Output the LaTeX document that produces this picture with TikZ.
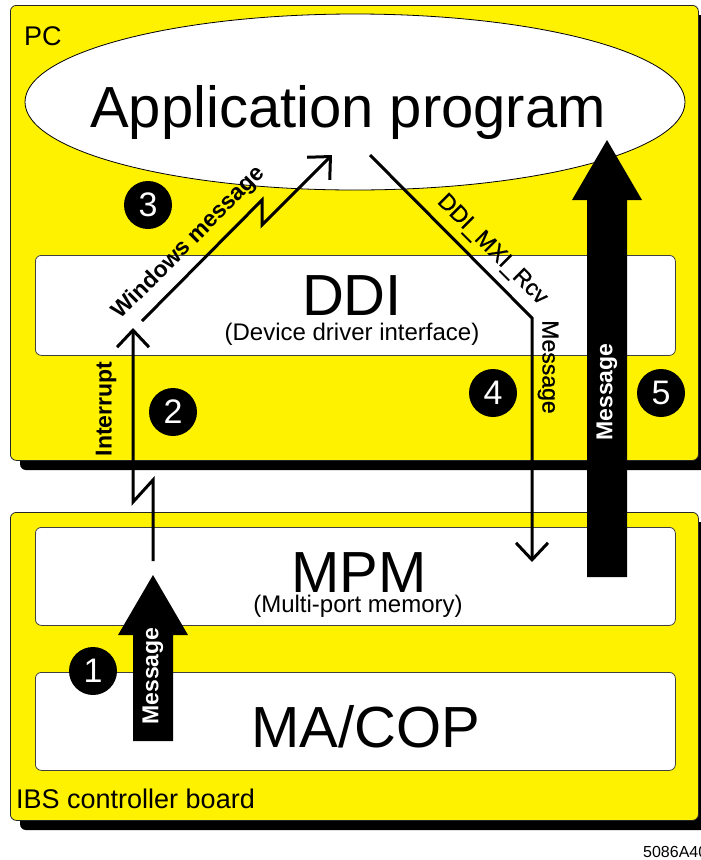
\documentclass[tikz,border=0pt]{standalone}
\usepackage{fontspec}
\setmainfont{Liberation Sans}
\newfontfamily\medfont{Liberation Sans}[FakeBold=0.9]
\usetikzlibrary{arrows.meta,shapes.geometric}
\begin{document}
\begin{tikzpicture}[x=1pt,y=-1pt,
  panel/.style={draw=black!85, line width=0.8pt, fill=yellow, rounded corners=6pt, inner sep=0pt, anchor=north west},
  shadowbox/.style={fill=black, rounded corners=6pt},
  innerbox/.style={draw=black!75, line width=0.8pt, fill=white, rounded corners=6pt, inner sep=0pt, anchor=north west},
  conn/.style={line width=3pt, line join=miter, -{Straight Barb[length=17pt,width=32pt]}},
  num/.style={circle, fill=black, text=white, minimum size=48pt, inner sep=0pt, font=\fontsize{34}{34}\selectfont},
  bigtxt/.style={font=\fontsize{58}{58}\selectfont, anchor=base, inner sep=0pt},
  midtxt/.style={font=\fontsize{24}{24}\selectfont, anchor=base, inner sep=0pt},
  lbl/.style={font=\medfont\fontsize{23}{23}\selectfont, inner sep=0pt},
  blbl/.style={font=\bfseries\fontsize{23}{23}\selectfont, inner sep=0pt},
  bigarrow/.style={fill=black}
]
\useasboundingbox (0,0) rectangle (701,860);

% shadows
\fill[shadowbox] (20,15) rectangle (708,470);
\fill[shadowbox] (20,522) rectangle (708,830);

% outer panels
\node[panel, minimum width=688pt, minimum height=455pt] (pc) at (10,5) {};
\node[panel, minimum width=688pt, minimum height=308pt] (ibs) at (10,512) {};

% inner boxes
\node[innerbox, minimum width=640pt, minimum height=100pt] (ddi) at (35,255) {};
\node[innerbox, minimum width=640pt, minimum height=98pt] (mpm) at (35,527) {};
\node[innerbox, minimum width=640pt, minimum height=98pt] (macop) at (35,672) {};

% application ellipse
\node[ellipse, draw=black, line width=0.8pt, fill=white, minimum width=660pt, minimum height=176pt, inner sep=0pt] (app) at (355,102) {};

% texts
\node[font=\fontsize{27}{27}\selectfont, anchor=base west, inner sep=0pt] (pclbl) at (24,45) {PC};
\node[font=\fontsize{27}{27}\selectfont, anchor=base west, inner sep=0pt] (ibslbl) at (16,808) {IBS controller board};
\node[bigtxt] (apptxt) at (348,127) {Application program};
\node[bigtxt] (dditxt) at (352,315) {DDI};
\node[midtxt] (ddisub) at (352,340) {(Device driver interface)};
\node[bigtxt] (mpmtxt) at (359,592) {MPM};
\node[midtxt] (mpmsub) at (358,612) {(Multi-port memory)};
\node[bigtxt] (macoptxt) at (366,747) {MA/COP};
\node[font=\fontsize{16}{16}\selectfont, anchor=base west, inner sep=0pt] (code) at (643,857) {5086A40};

% big arrows
\fill[bigarrow] (133,741) -- (133,635) -- (118,635) -- (153,575) -- (188,635) -- (173,635) -- (173,741) -- cycle;
\node[blbl, text=white, rotate=90] (msg1) at (153,676) {Message};
\fill[bigarrow] (587,577) -- (587,200) -- (572,200) -- (607,140) -- (642,200) -- (627,200) -- (627,577) -- cycle;
\node[blbl, text=white, rotate=90] (msg5) at (607,392) {Message};

% connectors
\coordinate (intS) at (153,561);
\coordinate (intT) at (133,328);
\draw[conn] (intS) -- (153,480) -- (133,502) -- (intT);
\node[blbl, rotate=90] (intlbl) at (106,409) {Interrupt};

\coordinate (winS) at (142,321);
\coordinate (winT) at (332,155);
\draw[conn] (winS) -- (262,200) -- (262,225) -- (winT);
\node[blbl, rotate=45] (winlbl) at (189,243) {Windows message};

\coordinate (rcvS) at (370,155);
\coordinate (rcvK) at (532,318);
\coordinate (rcvT) at (532,562);
\draw[conn] (rcvS) -- (rcvK) -- (rcvT);
\node[lbl, rotate=-45] (rcvlbl) at (492,250) {DDI\_MXI\_Rcv};
\node[lbl, rotate=-90] (msg4) at (548,367) {Message};

% numbers
\node[num] (n1) at (93,671) {1};
\node[num] (n2) at (173,412) {2};
\node[num] (n3) at (148,205) {3};
\node[num] (n4) at (493,393) {4};
\node[num] (n5) at (661,393) {5};
\end{tikzpicture}
\end{document}
